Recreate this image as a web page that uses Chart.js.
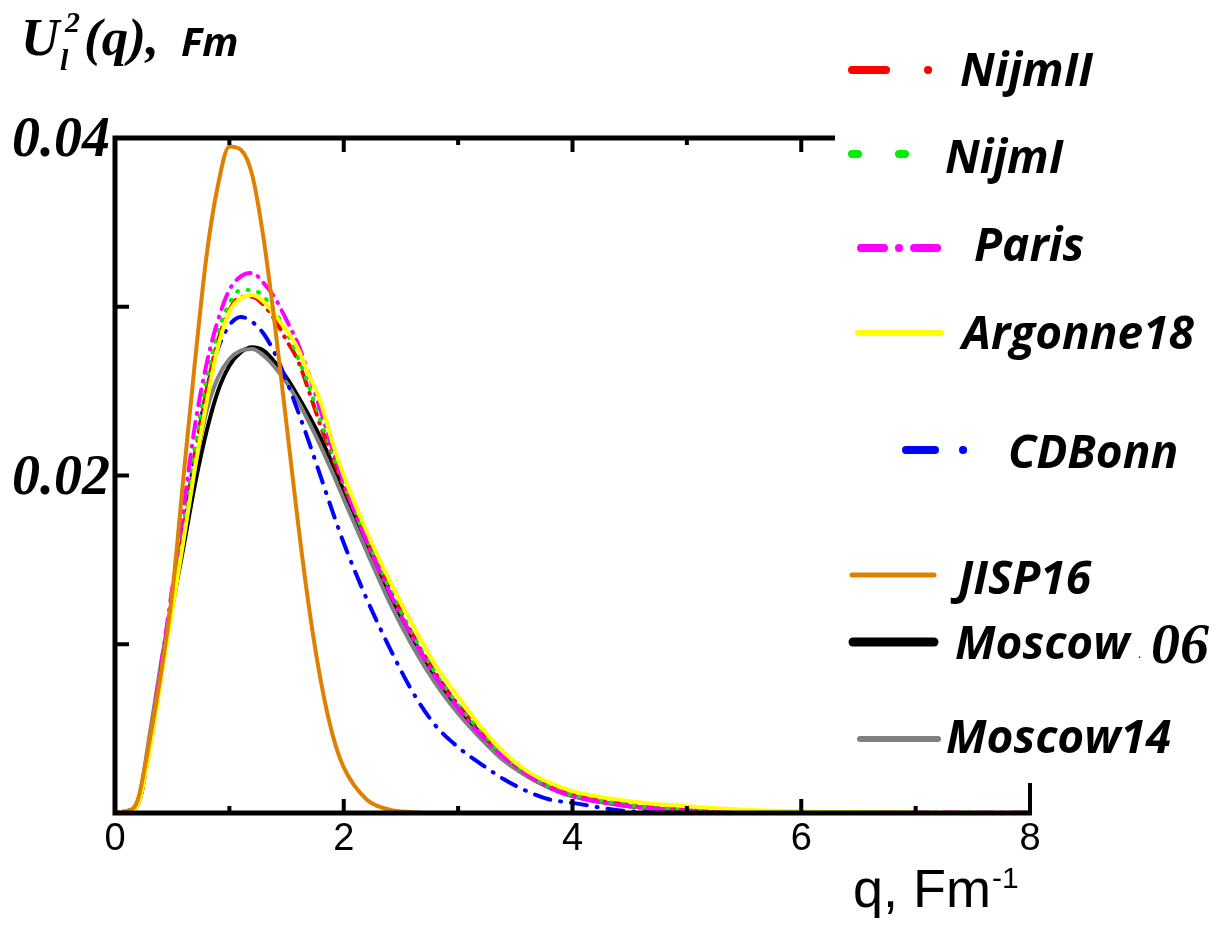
<!DOCTYPE html>
<html>
<head>
<meta charset="utf-8">
<script src="https://cdn.jsdelivr.net/npm/chart.js@4/dist/chart.umd.min.js"></script>
<style>
  html, body { margin: 0; padding: 0; background: #fff; }
  #wrap { width: 1217px; height: 932px; }
</style>
</head>
<body>
<div id="wrap"><canvas id="chart" width="1217" height="932"></canvas></div>
<script>
// q, Fm^-1
const qValues = [0, 0.1, 0.2, 0.3, 0.4, 0.5, 0.6, 0.7, 0.8, 0.9, 1.0, 1.1, 1.2, 1.3, 1.4, 1.5, 1.6, 1.7, 1.8, 1.9, 2.0,
  2.2, 2.4, 2.6, 2.8, 3.0, 3.2, 3.4, 3.6, 3.8, 4.0, 4.5, 5.0, 5.5, 6, 7, 8];

// U_l^2(q), Fm
const nijm2 = [0, 0.0001, 0.0005, 0.0037, 0.0080, 0.0124, 0.0168, 0.0212, 0.0250, 0.0280, 0.0298, 0.0306, 0.0306, 0.0301, 0.0292, 0.0280, 0.0268, 0.0249, 0.0229, 0.0211, 0.0194,
  0.0162, 0.0133, 0.0106, 0.0083, 0.0064, 0.0048, 0.0034, 0.0024, 0.0016, 0.0011, 0.0005, 0.0002, 0.0001, 0.00005, 0.00001, 0];
const nijm1 = [0, 0.0001, 0.0005, 0.0038, 0.0082, 0.0127, 0.0172, 0.0218, 0.0257, 0.0285, 0.0302, 0.0310, 0.0310, 0.0306, 0.0297, 0.0285, 0.0270, 0.0252, 0.0232, 0.0213, 0.0195,
  0.0162, 0.0133, 0.0106, 0.0083, 0.0064, 0.0048, 0.0034, 0.0024, 0.0016, 0.0011, 0.0005, 0.0002, 0.0001, 0.00005, 0.00001, 0];
const paris = [0, 0.0001, 0.0006, 0.0040, 0.0086, 0.0133, 0.0181, 0.0230, 0.0266, 0.0292, 0.0310, 0.0318, 0.0320, 0.0314, 0.0305, 0.0292, 0.0278, 0.0259, 0.0238, 0.0216, 0.0196,
  0.0161, 0.0131, 0.0104, 0.0081, 0.0062, 0.0046, 0.0033, 0.0023, 0.0015, 0.0010, 0.0004, 0.00015, 0.00008, 0.00005, 0.00004, 0.00003];
const argonne18 = [0, 0.0001, 0.0005, 0.0036, 0.0078, 0.0120, 0.0162, 0.0205, 0.0243, 0.0276, 0.0297, 0.0305, 0.0307, 0.0303, 0.0295, 0.0286, 0.0275, 0.0259, 0.0243, 0.0220, 0.0200,
  0.0167, 0.0138, 0.0112, 0.0088, 0.0069, 0.0051, 0.0036, 0.0025, 0.0018, 0.0013, 0.0007, 0.0004, 0.0002, 0.0001, 0.00003, 0];
const cdBonn = [0, 0.0001, 0.0005, 0.0038, 0.0082, 0.0127, 0.0170, 0.0213, 0.0250, 0.0275, 0.0289, 0.0294, 0.0291, 0.0284, 0.0272, 0.0256, 0.0238, 0.0219, 0.0199, 0.0179, 0.0160,
  0.0127, 0.0098, 0.0072, 0.0052, 0.0039, 0.0029, 0.0020, 0.0013, 0.0008, 0.0006, 0.0001, 0.00003, 0, 0, 0, 0];
const jisp16 = [0, 0.0001, 0.0008, 0.0042, 0.0082, 0.0130, 0.0200, 0.0268, 0.0330, 0.0372, 0.0395, 0.0393, 0.0378, 0.0340, 0.0288, 0.0230, 0.0172, 0.0120, 0.0078, 0.0047, 0.0027,
  0.0008, 0.0002, 0.00005, 0, 0, 0, 0, 0, 0, 0, 0, 0, 0, 0, 0, 0];
const moscow06 = [0, 0.0001, 0.0006, 0.0040, 0.0083, 0.0122, 0.0158, 0.0195, 0.0226, 0.0250, 0.0265, 0.0273, 0.0276, 0.0274, 0.0267, 0.0258, 0.0247, 0.0235, 0.0222, 0.0207, 0.0191,
  0.0160, 0.0130, 0.0104, 0.0081, 0.0062, 0.0047, 0.0032, 0.0022, 0.0015, 0.0010, 0.0004, 0.00015, 0.00005, 0.00002, 0, 0];
const moscow14 = [0, 0.0001, 0.0007, 0.0045, 0.0088, 0.0127, 0.0165, 0.0205, 0.0238, 0.0258, 0.0269, 0.0274, 0.0275, 0.0271, 0.0264, 0.0255, 0.0244, 0.0231, 0.0217, 0.0202, 0.0186,
  0.0155, 0.0125, 0.0099, 0.0077, 0.0059, 0.0044, 0.0031, 0.0022, 0.0015, 0.0010, 0.0004, 0.00015, 0.00005, 0.00002, 0, 0];

const legendLabels = ['NijmII', 'NijmI', 'Paris', 'Argonne18', 'CDBonn', 'JISP16', 'Moscow', 'Moscow14'];
const xTickLabels = [0, 2, 4, 6, 8];
const yTickLabels = [0.02, 0.04];

function pts(arr) {
  return qValues.map((q, i) => ({ x: q, y: arr[i] }));
}

function line(label, arr, color, width, dash, order) {
  return {
    label: label,
    data: pts(arr),
    borderColor: color,
    borderWidth: width,
    borderDash: dash,
    borderCapStyle: 'round',
    pointRadius: 0,
    fill: false,
    cubicInterpolationMode: 'monotone',
    order: order
  };
}

// legend samples and text positions
const legendStyle = [
  { color: '#ff0000', x1: 852, x2: 935, y: 70, dash: [34, 42, 0.1, 100], w: 8, tx: 960, ty: 86 },
  { color: '#00ee00', x1: 852, x2: 910, y: 154, dash: [6, 41], w: 8, tx: 945, ty: 173 },
  { color: '#ff00ff', x1: 861, x2: 940, y: 248, dash: [23, 15, 0.1, 15, 23, 100], w: 8, tx: 974, ty: 261 },
  { color: '#ffff00', x1: 858, x2: 941, y: 333, dash: [], w: 6, tx: 962, ty: 349 },
  { color: '#0000ff', x1: 906, x2: 966, y: 450, dash: [29, 28, 0.1, 100], w: 8, tx: 1008, ty: 468 },
  { color: '#e08000', x1: 852, x2: 934, y: 575, dash: [], w: 5, tx: 958, ty: 594 },
  { color: '#000000', x1: 853, x2: 934, y: 642, dash: [], w: 9, tx: 955, ty: 659 },
  { color: '#808080', x1: 860, x2: 938, y: 739, dash: [], w: 6, tx: 946, ty: 753 }
];

const axesPlugin = {
  id: 'axesPlugin',
  afterDraw(chart) {
    const ctx = chart.ctx;
    const xs = chart.scales.x;
    const ys = chart.scales.y;
    const x0 = xs.getPixelForValue(0), x8 = xs.getPixelForValue(8);
    const yb = ys.getPixelForValue(0), yt = ys.getPixelForValue(0.04);
    ctx.save();
    ctx.setLineDash([]);
    ctx.strokeStyle = '#000';
    ctx.lineWidth = 5;
    ctx.lineCap = 'butt';
    ctx.beginPath();
    ctx.moveTo(x0, yt - 2.5); ctx.lineTo(x0, yb + 2.5);
    ctx.moveTo(x0 - 2.5, yb); ctx.lineTo(x8 + 2, yb);
    ctx.moveTo(x0 - 2.5, yt); ctx.lineTo(835, yt);
    ctx.stroke();

    // x ticks (inward), top mirror
    ctx.lineWidth = 4;
    ctx.beginPath();
    for (let q = 1; q <= 8; q++) {
      const px = xs.getPixelForValue(q);
      let len = q % 2 === 0 ? 14 : 7;
      if (q === 8) len = 30;
      ctx.moveTo(px, yb); ctx.lineTo(px, yb - len);
      if (px < 830) { ctx.moveTo(px, yt); ctx.lineTo(px, yt + (q % 2 === 0 ? 14 : 7)); }
    }
    for (const v of [0.01, 0.02, 0.03]) {
      const py = ys.getPixelForValue(v);
      ctx.moveTo(x0, py); ctx.lineTo(x0 + 14, py);
    }
    ctx.stroke();

    // tick labels
    ctx.fillStyle = '#000';
    ctx.textAlign = 'center';
    ctx.textBaseline = 'alphabetic';
    ctx.font = '38px "Liberation Sans Narrow", "Liberation Sans", Arial, sans-serif';
    xTickLabels.forEach(t => ctx.fillText(String(t), xs.getPixelForValue(t), 850));
    ctx.textAlign = 'left';
    ctx.font = 'italic bold 56px "Liberation Serif", "Times New Roman", serif';
    yTickLabels.forEach(t => ctx.fillText(t.toFixed(2), 12, ys.getPixelForValue(t) + 18));

    // axis titles
    ctx.font = '54px "Liberation Sans", Arial, sans-serif';
    ctx.fillText('q, Fm', 853, 907);
    const w = ctx.measureText('q, Fm').width;
    ctx.font = '30px "Liberation Sans", Arial, sans-serif';
    ctx.fillText('-1', 853 + w + 1, 888);

    ctx.font = 'italic bold 53px "Liberation Serif", "Times New Roman", serif';
    ctx.fillText('U', 21, 55);
    ctx.fillText('(q),', 84, 55);
    ctx.font = 'italic bold 30px "Liberation Serif", "Times New Roman", serif';
    ctx.fillText('2', 65, 32);
    ctx.fillText('l', 60, 70);
    ctx.font = 'italic bold 40px "Open Sans", sans-serif';
    ctx.fillText('Fm', 181, 56);

    // legend
    legendStyle.forEach((s, i) => {
      ctx.strokeStyle = s.color;
      ctx.lineWidth = s.w;
      ctx.lineCap = 'round';
      ctx.setLineDash(s.dash);
      ctx.beginPath();
      ctx.moveTo(s.x1, s.y); ctx.lineTo(s.x2, s.y);
      ctx.stroke();
      ctx.setLineDash([]);
      ctx.fillStyle = '#000';
      ctx.font = 'italic bold 46px "Open Sans", sans-serif';
      ctx.fillText(legendLabels[i], s.tx, s.ty);
    });
    ctx.font = '12px "Open Sans", sans-serif';
    ctx.fillText('.', 1138, 658);
    ctx.font = 'italic bold 58px "Liberation Serif", "Times New Roman", serif';
    ctx.fillText('06', 1151, 663);
    ctx.restore();
  }
};

new Chart(document.getElementById('chart'), {
  type: 'line',
  data: {
    datasets: [
      line('Moscow06', moscow06, '#000000', 4, [], 8),
      line('Moscow14', moscow14, '#808080', 4, [], 7),
      line('CDBonn', cdBonn, '#0000ff', 4, [16, 10, 1, 10], 6),
      line('NijmII', nijm2, '#ff0000', 4, [14, 8, 1, 8], 5),
      line('NijmI', nijm1, '#00ee00', 4, [1, 10], 4),
      line('Paris', paris, '#ff00ff', 4, [16, 8, 1, 8], 3),
      line('Argonne18', argonne18, '#ffff00', 4, [], 2),
      line('JISP16', jisp16, '#e08000', 4, [], 1)
    ]
  },
  options: {
    responsive: false,
    animation: false,
    layout: { padding: { left: 115, right: 187, top: 138, bottom: 119 } },
    scales: {
      x: { type: 'linear', min: 0, max: 8, display: false },
      y: { type: 'linear', min: 0, max: 0.04, display: false }
    },
    plugins: {
      legend: { display: false },
      tooltip: { enabled: false }
    }
  },
  plugins: [axesPlugin]
});
</script>
</body>
</html>
